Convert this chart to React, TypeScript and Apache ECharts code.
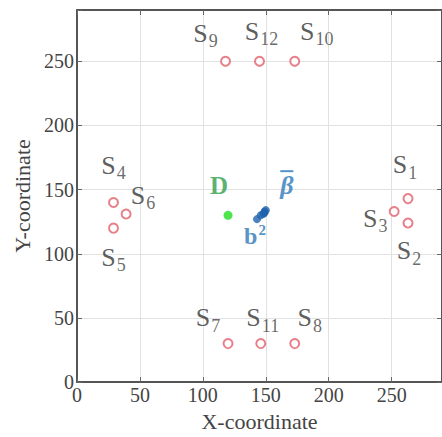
import React, { useEffect, useRef } from "react";
import * as echarts from "echarts";

const sensorIds = ["1", "2", "3", "4", "5", "6", "7", "8", "9", "10", "11", "12"];
const sensorX = [263, 263, 252, 29, 29, 39, 120, 173, 118, 173, 146, 145];
const sensorY = [143, 124, 133, 140, 120, 131, 30, 30, 250, 250, 30, 250];
const sourceD = [120, 130];
const estimatesX = [143, 146, 148, 149, 150, 149];
const estimatesY = [127, 130, 131, 133, 134, 132];
const xTicks = [0, 50, 100, 150, 200, 250];
const yTicks = [0, 50, 100, 150, 200, 250];

// label offsets (px) – styling only
const sensorLabelOffsets: Record<string, [number, number]> = {
  "1": [-3, -34], "2": [1, 28], "3": [-19, 7],
  "4": [0, -37], "5": [0, 29], "6": [17, -19],
  "7": [-20, -26], "8": [15, -26], "11": [2, -26],
  "9": [-20, -28], "10": [22, -30], "12": [2, -30],
};

const SERIF = "Liberation Serif";
const BLUE = "#2b78b8";

export default function App() {
  const ref = useRef<HTMLDivElement>(null);
  useEffect(() => {
    if (!ref.current) return;
    const chart = echarts.init(ref.current, null, { renderer: "svg" });
    const axisCommon = {
      type: "value" as const,
      min: 0,
      max: 290,
      interval: 50,
      axisLine: { show: true, onZero: false, lineStyle: { color: "#555", width: 2 } },
      axisTick: { show: true, inside: true, length: 5, lineStyle: { color: "#666", width: 1 } },
      splitLine: { show: true, lineStyle: { color: "#e2e2e2", width: 1 } },
    };
    const sensorData = sensorIds.map((id, i) => ({
      value: [sensorX[i], sensorY[i]],
      label: {
        show: true,
        position: "inside",
        offset: sensorLabelOffsets[id],
        formatter: `{s|S}{n|${id}}`,
        fontFamily: SERIF,
        rich: {
          s: { fontFamily: SERIF, fontSize: 26, color: "#333" },
          n: { fontFamily: SERIF, fontSize: 18, color: "#444", padding: [16, 0, 0, 1] },
        },
      },
    }));
    const estData = estimatesX.map((x, i) => ({ value: [x, estimatesY[i]] }));
    chart.setOption({
      animation: false,
      textStyle: { fontFamily: SERIF },
      grid: { left: 77, top: 10, width: 373, height: 373, show: false },
      xAxis: [
        {
          ...axisCommon,
          position: "bottom",
          name: "X-coordinate",
          nameLocation: "middle",
          nameGap: 26,
          nameTextStyle: { fontFamily: SERIF, fontSize: 22, color: "#444" },
          axisLabel: {
            fontFamily: SERIF, fontSize: 20, color: "#444", margin: 3,
            customValues: xTicks,
          },
        },
        {
          ...axisCommon,
          position: "top",
          axisLabel: { show: false },
          splitLine: { show: false },
        },
      ],
      yAxis: [
        {
          ...axisCommon,
          position: "left",
          name: "Y-coordinate",
          nameLocation: "middle",
          nameGap: 42,
          nameTextStyle: { fontFamily: SERIF, fontSize: 22, color: "#444" },
          axisLabel: {
            fontFamily: SERIF, fontSize: 20, color: "#444", margin: 3,
            customValues: yTicks,
          },
        },
        {
          ...axisCommon,
          position: "right",
          axisLabel: { show: false },
          splitLine: { show: false },
        },
      ],
      series: [
        {
          type: "scatter",
          symbol: "circle",
          symbolSize: 9,
          itemStyle: { color: "#fff", borderColor: "#e2606c", borderWidth: 2 },
          data: sensorData,
          z: 3,
        },
        {
          type: "scatter",
          symbolSize: 9,
          itemStyle: { color: "#1fe01f" },
          data: [
            {
              value: sourceD,
              label: {
                show: true, position: "inside", offset: [-9, -30], formatter: "D",
                fontFamily: SERIF, fontSize: 25, fontWeight: "bold", color: "#2f9e4a",
              },
            },
          ],
          z: 4,
        },
        {
          type: "scatter",
          symbolSize: 8,
          itemStyle: { color: "#1f63ad" },
          data: estData.map((d, i) => {
            if (i === 0) {
              return {
                ...d,
                label: {
                  show: true, position: "inside", offset: [-2, 17],
                  formatter: "{b|b}{p|2}",
                  fontFamily: SERIF,
                  rich: {
                    b: { fontFamily: SERIF, fontSize: 24, fontWeight: "bold", color: BLUE },
                    p: { fontFamily: SERIF, fontSize: 15, fontWeight: "bold", color: BLUE, padding: [0, 0, 12, 1] },
                  },
                },
              };
            }
            if (i === 4) {
              return {
                ...d,
                label: {
                  show: true, position: "inside", offset: [21, -27],
                  formatter: "{o|}\n{b|\u03B2}",
                  fontFamily: SERIF,
                  rich: {
                    o: { width: 13, height: 2, lineHeight: 4, backgroundColor: BLUE, padding: [0, 0, 0, 0] },
                    b: { fontFamily: SERIF, fontSize: 26, fontWeight: "bold", fontStyle: "italic", color: BLUE, lineHeight: 24 },
                  },
                },
              };
            }
            return d;
          }),
          z: 5,
        },
      ],
    });
    return () => chart.dispose();
  }, []);
  return (
    <div
      ref={ref}
      style={{ position: "fixed", left: 0, top: 0, width: 442, height: 437, background: "#fff" }}
    />
  );
}
